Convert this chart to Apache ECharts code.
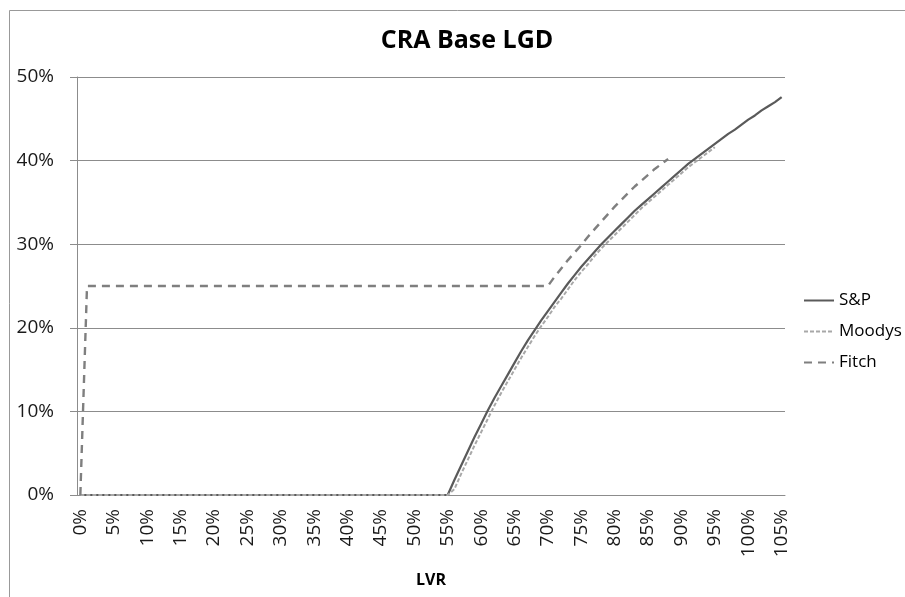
<!DOCTYPE html>
<html>
<head>
<meta charset="utf-8">
<script src="https://cdn.jsdelivr.net/npm/echarts@6/dist/echarts.min.js"></script>
<style>
html, body { margin: 0; padding: 0; background: #fff; }
#chart { width: 905px; height: 597px; }
</style>
</head>
<body>
<div id="chart"></div>
<script>
// LVR categories 0% .. 105%
const categories = Array.from(new Array(106), (_, i) => i + '%')
const yTicks = [0, 10, 20, 30, 40, 50]

// [LVR, LGD %]
const spData = [
  ['0%', 0], ['55%', 0], ['56%', 1.8], ['57%', 3.5], ['58%', 5.2], ['59%', 6.9],
  ['60%', 8.5], ['61%', 10.1], ['62%', 11.6], ['63%', 13.0], ['64%', 14.4],
  ['65%', 15.8], ['66%', 17.2], ['67%', 18.5], ['68%', 19.7], ['69%', 20.9],
  ['70%', 22.0], ['71%', 23.1], ['72%', 24.2], ['73%', 25.3], ['74%', 26.3],
  ['75%', 27.3], ['76%', 28.2], ['77%', 29.1], ['78%', 30.0], ['79%', 30.8],
  ['80%', 31.6], ['81%', 32.4], ['82%', 33.2], ['83%', 34.0], ['84%', 34.7],
  ['85%', 35.4], ['86%', 36.1], ['87%', 36.8], ['88%', 37.5], ['89%', 38.2],
  ['90%', 38.9], ['91%', 39.6], ['92%', 40.2], ['93%', 40.8], ['94%', 41.4],
  ['95%', 42.0], ['96%', 42.6], ['97%', 43.2], ['98%', 43.7], ['99%', 44.3],
  ['100%', 44.9], ['101%', 45.4], ['102%', 46.0], ['103%', 46.5], ['104%', 47.0],
  ['105%', 47.6]
]
const moodysData = [
  ['0%', 0], ['55%', 0], ['56%', 0.7], ['57%', 2.5], ['58%', 4.2], ['59%', 5.9],
  ['60%', 7.5], ['61%', 9.1], ['62%', 10.7], ['63%', 12.2], ['64%', 13.6],
  ['65%', 15.0], ['66%', 16.4], ['67%', 17.7], ['68%', 19.0], ['69%', 20.2],
  ['70%', 21.3], ['71%', 22.5], ['72%', 23.5], ['73%', 24.6], ['74%', 25.7],
  ['75%', 26.7], ['76%', 27.6], ['77%', 28.6], ['78%', 29.5], ['79%', 30.3],
  ['80%', 31.1], ['81%', 31.9], ['82%', 32.7], ['83%', 33.5], ['84%', 34.3],
  ['85%', 35.0], ['86%', 35.7], ['87%', 36.4], ['88%', 37.1], ['89%', 37.8],
  ['90%', 38.5], ['91%', 39.2], ['92%', 39.8], ['93%', 40.4], ['94%', 41.0],
  ['95%', 41.6]
]
const fitchData = [
  ['0%', 0], ['1%', 25], ['70%', 25], ['71%', 26.1], ['72%', 27.1], ['73%', 28.1],
  ['74%', 29.0], ['75%', 29.9], ['76%', 30.9], ['77%', 31.8], ['78%', 32.7],
  ['79%', 33.6], ['80%', 34.5], ['81%', 35.3], ['82%', 36.1], ['83%', 36.9],
  ['84%', 37.6], ['85%', 38.3], ['86%', 39.0], ['87%', 39.6], ['88%', 40.2]
]

const font = '"Open Sans", "Noto Sans", sans-serif'

echarts.init(document.getElementById('chart')).setOption({
  animation: false,
  backgroundColor: '#fff',
  textStyle: { fontFamily: font },
  title: {
    text: 'CRA Base LGD',
    left: 462,
    top: 23,
    textAlign: 'center',
    textStyle: { fontSize: 25, fontWeight: 'bold', color: '#000', fontFamily: font }
  },
  graphic: [
    { type: 'line', shape: { x1: 9.5, y1: 10.5, x2: 905, y2: 10.5 }, style: { stroke: '#999', lineWidth: 1 } },
    { type: 'line', shape: { x1: 9.5, y1: 10.5, x2: 9.5, y2: 597 }, style: { stroke: '#999', lineWidth: 1 } }
  ],
  legend: {
    orient: 'vertical',
    left: 803,
    top: 292,
    padding: 0,
    itemWidth: 30,
    itemHeight: 14,
    itemGap: 14,
    itemStyle: { opacity: 0 },
    textStyle: { fontSize: 17, color: '#000', lineHeight: 17, fontFamily: font },
    data: ['S&P', 'Moodys', 'Fitch']
  },
  grid: { left: 77, right: 120, top: 77, bottom: 102 },
  xAxis: {
    type: 'category',
    data: categories,
    name: 'LVR',
    nameLocation: 'middle',
    nameGap: 77,
    nameTextStyle: { fontSize: 16, fontWeight: 'bold', color: '#000', fontFamily: font },
    axisLine: { lineStyle: { color: '#8c8c8c', width: 1 } },
    axisTick: { interval: 0, length: 8, lineStyle: { color: '#8c8c8c' } },
    axisLabel: {
      interval: 4,
      rotate: 90,
      margin: 14,
      fontSize: 19,
      color: '#1a1a1a',
      fontFamily: font
    },
    splitLine: { show: false }
  },
  yAxis: {
    type: 'value',
    min: yTicks[0],
    max: yTicks[yTicks.length - 1],
    interval: 10,
    axisLine: { show: true, lineStyle: { color: '#8c8c8c', width: 1 } },
    axisTick: { show: true, length: 7, lineStyle: { color: '#8c8c8c' } },
    axisLabel: {
      margin: 23,
      fontSize: 19,
      color: '#1a1a1a',
      fontFamily: font,
      formatter: v => v + '%'
    },
    splitLine: { lineStyle: { color: '#8c8c8c', width: 1 } }
  },
  series: [{
    name: 'S&P',
    type: 'line',
    showSymbol: false,
    symbol: 'none',
    itemStyle: { color: '#5a5a5a' },
    lineStyle: { color: '#5a5a5a', width: 2.2 },
    data: spData
  }, {
    name: 'Moodys',
    type: 'line',
    showSymbol: false,
    symbol: 'none',
    itemStyle: { color: '#a8a8a8' },
    lineStyle: { color: '#a8a8a8', width: 2, type: [4, 2] },
    data: moodysData
  }, {
    name: 'Fitch',
    type: 'line',
    showSymbol: false,
    symbol: 'none',
    itemStyle: { color: '#7f7f7f' },
    lineStyle: { color: '#7f7f7f', width: 2.4, type: [8, 6] },
    data: fitchData
  }]
})
</script>
</body>
</html>
